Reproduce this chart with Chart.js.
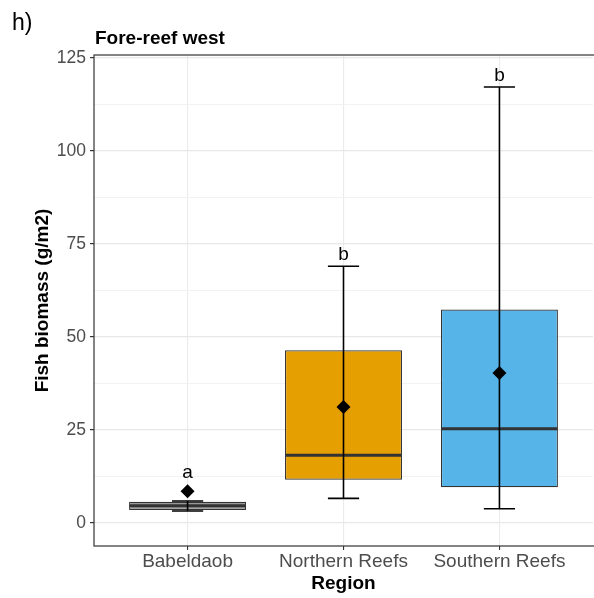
<!DOCTYPE html>
<html>
<head>
<meta charset="utf-8">
<script src="https://cdn.jsdelivr.net/npm/chart.js@4.4.1/dist/chart.umd.min.js"></script>
<style>
  html, body { margin: 0; padding: 0; background: #fff; overflow: hidden; }
  #wrap { width: 600px; height: 598px; }
</style>
</head>
<body>
<div id="wrap"><canvas id="chart" width="600" height="598"></canvas></div>
<script>
// values (g/m2)
const regions = ['Babeldaob', 'Northern Reefs', 'Southern Reefs']
const whiskerLow = [3.2, 6.6, 3.8]
const boxLow = [3.5, 11.6, 9.6]
const medians = [4.6, 18.2, 25.3]
const boxHigh = [5.7, 46.4, 57.4]
const whiskerHigh = [5.9, 69.0, 117.2]
const means = [8.5, 31.2, 40.3]
const letters = ['a', 'b', 'b']
const letterAt = [12, 70.6, 118.9]
const yTicks = [0, 25, 50, 75, 100, 125]
const fills = ['#999999', '#E69F00', '#56B4E9']

const FONT = "'Liberation Sans', Arial, sans-serif"
const minorTicks = yTicks.slice(0, -1).map((v, i) => (v + yTicks[i + 1]) / 2)
const gridVals = yTicks.concat(minorTicks).sort((a, b) => a - b)

const boxParts = {
    id: 'boxParts',
    afterDatasetDraw(chart, args) {
        if (args.index !== 0) return
        const { ctx, scales: { x, y } } = chart
        ctx.save()
        regions.forEach((r, i) => {
            const cx = x.getPixelForValue(i)
            const half = x.getPixelForValue(i + 0.375) - cx
            const cap = x.getPixelForValue(i + 0.1) - cx
            // median
            const my = y.getPixelForValue(medians[i])
            ctx.strokeStyle = '#333333'
            ctx.lineWidth = 3
            ctx.beginPath()
            ctx.moveTo(cx - half + 0.5, my)
            ctx.lineTo(cx + half - 0.5, my)
            ctx.stroke()
            // error bar
            const lo = y.getPixelForValue(whiskerLow[i])
            const hi = y.getPixelForValue(whiskerHigh[i])
            ctx.strokeStyle = '#000000'
            ctx.lineWidth = 1.6
            ctx.beginPath()
            ctx.moveTo(cx, lo); ctx.lineTo(cx, hi)
            ctx.moveTo(cx - cap, lo); ctx.lineTo(cx + cap, lo)
            ctx.moveTo(cx - cap, hi); ctx.lineTo(cx + cap, hi)
            ctx.stroke()
        })
        ctx.restore()
    },
    afterDraw(chart) {
        const { ctx, chartArea: a, scales: { x, y } } = chart
        ctx.save()
        // panel border
        ctx.strokeStyle = '#333333'
        ctx.lineWidth = 1.2
        ctx.strokeRect(a.left, a.top, a.right - a.left + 10, a.bottom - a.top)
        // letters
        ctx.fillStyle = '#000000'
        ctx.font = '19px ' + FONT
        ctx.textAlign = 'center'
        ctx.textBaseline = 'alphabetic'
        letters.forEach((l, i) => {
            ctx.fillText(l, x.getPixelForValue(i), y.getPixelForValue(letterAt[i]))
        })
        // titles
        ctx.textAlign = 'left'
        ctx.font = '23px ' + FONT
        ctx.fillText('h)', 12, 30)
        ctx.font = 'bold 19px ' + FONT
        ctx.fillText('Fore-reef west', 95, 44)
        ctx.restore()
    }
}

new Chart(document.getElementById('chart'), {
    type: 'bar',
    data: {
        datasets: [{
            type: 'bar',
            data: regions.map((r, i) => ({ x: i, y: [boxLow[i], boxHigh[i]] })),
            backgroundColor: fills,
            borderColor: '#333333',
            borderWidth: 1.2,
            borderSkipped: false,
            barPercentage: 0.75,
            categoryPercentage: 1,
            order: 2
        }, {
            type: 'scatter',
            data: regions.map((r, i) => ({ x: i, y: means[i] })),
            pointStyle: 'rectRot',
            radius: 7,
            backgroundColor: '#000000',
            borderWidth: 0,
            order: 1
        }]
    },
    plugins: [boxParts],
    options: {
        responsive: false,
        animation: false,
        devicePixelRatio: 1,
        layout: { padding: { top: 55, right: 4, left: 0, bottom: 0 } },
        plugins: { legend: { display: false }, tooltip: { enabled: false }, title: { display: false } },
        scales: {
            x: {
                type: 'linear',
                offset: false,
                min: -0.6,
                max: 2.6,
                afterBuildTicks: s => { s.ticks = regions.map((r, i) => ({ value: i })) },
                afterFit: s => { s.height = 52 },
                ticks: {
                    callback: v => regions[v],
                    color: '#4D4D4D',
                    font: { family: FONT, size: 19 },
                    padding: 0,
                    maxRotation: 0,
                    autoSkip: false
                },
                grid: { offset: false, color: '#EBEBEB', lineWidth: 1.1, tickColor: '#333333', tickLength: 4 },
                border: { display: false },
                title: {
                    display: true,
                    text: 'Region',
                    color: '#000000',
                    font: { family: FONT, size: 19, weight: 'bold' },
                    padding: { top: 0, bottom: 3 }
                }
            },
            y: {
                min: -6.2,
                max: 125.8,
                afterBuildTicks: s => { s.ticks = gridVals.map(v => ({ value: v })) },
                afterFit: s => { s.width = 94 },
                ticks: {
                    callback: v => yTicks.includes(v) ? String(v) : '',
                    color: '#4D4D4D',
                    font: { family: FONT, size: 17.5 },
                    padding: 4,
                    autoSkip: false
                },
                grid: {
                    color: c => yTicks.includes(c.tick.value) ? '#E8E8E8' : '#F1F1F1',
                    lineWidth: c => yTicks.includes(c.tick.value) ? 1.2 : 0.9,
                    tickColor: c => yTicks.includes(c.tick.value) ? '#333333' : 'rgba(0,0,0,0)',
                    tickLength: 4
                },
                border: { display: false },
                title: {
                    display: true,
                    text: 'Fish biomass (g/m2)',
                    color: '#000000',
                    font: { family: FONT, size: 19, weight: 'bold' },
                    padding: { top: 31, bottom: 0 }
                }
            }
        }
    }
})
</script>
</body>
</html>
